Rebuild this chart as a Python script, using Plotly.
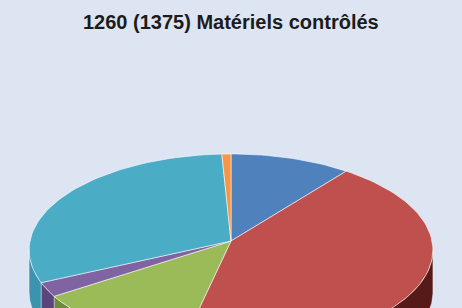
import numpy as np
import plotly.graph_objects as go

# ---- data ----
categories = ["Série 1", "Série 2", "Série 3", "Série 4", "Série 5", "Série 6"]
values = [133, 541, 154, 30, 392, 10]
title_text = "1260 (1375) Matériels contrôlés"

top_colors = ["#4f81bd", "#c0504d", "#9bbb59", "#8064a2", "#4bacc6", "#f79646"]
side_colors = ["#34598a", "#561b19", "#6f8a3c", "#5c457c", "#3b93ae", "#b56a2d"]
bg = "#dce5f1"

# ---- layout constants (pixels) ----
W, H = 462, 308
CX, CY0 = 231, 241          # projected centre of the disc
A, B, K = 201, 95.2, 0.09375  # perspective ellipse parameters
DEPTH = 42


def proj(theta, drop=0.0):
    u = np.sin(theta)
    v = -np.cos(theta)
    w = 1 - K * v
    return CX + A * u / w, CY0 + B * v / w + drop


vals = np.array(values, dtype=float)
fr = vals / vals.sum()
ends = np.cumsum(fr) * 2 * np.pi
starts = ends - fr * 2 * np.pi

fig = go.Figure()

# side faces (front half only)
lo = np.arccos(-K)
hi = 2 * np.pi - lo
for i, name in enumerate(categories):
    a0, a1 = max(starts[i], lo), min(ends[i], hi)
    if a1 <= a0:
        continue
    t = np.linspace(a0, a1, 80)
    xt, yt = proj(t)
    xb, yb = proj(t[::-1], DEPTH)
    fig.add_trace(go.Scatter(
        x=np.concatenate([xt, xb, xt[:1]]), y=np.concatenate([yt, yb, yt[:1]]),
        mode="lines", fill="toself", fillcolor=side_colors[i],
        line=dict(color="rgba(255,255,255,0.35)", width=1),
        hoverinfo="skip", showlegend=False))

# top faces
for i, name in enumerate(categories):
    t = np.linspace(starts[i], ends[i], max(6, int(200 * fr[i])))
    xa, ya = proj(t)
    fig.add_trace(go.Scatter(
        x=np.concatenate([[CX], xa, [CX]]), y=np.concatenate([[CY0], ya, [CY0]]),
        mode="lines", fill="toself", fillcolor=top_colors[i],
        line=dict(color="rgba(255,255,255,0.55)", width=1),
        name=name, text=f"{name}: {values[i]}", hoverinfo="text",
        showlegend=False))

fig.add_annotation(
    x=W / 2 - 0.5, y=22, xref="x", yref="y", text="<b>" + title_text + "</b>",
    showarrow=False, xanchor="center", yanchor="middle",
    font=dict(family="Liberation Sans, Arial, sans-serif", size=20, color="#1c1c1c"))

fig.update_layout(
    width=W, height=H, margin=dict(l=0, r=0, t=0, b=0),
    paper_bgcolor=bg, plot_bgcolor=bg, showlegend=False,
    xaxis=dict(range=[0, W], visible=False, fixedrange=True),
    yaxis=dict(range=[H, 0], visible=False, fixedrange=True),
)

fig.write_html("out.html", config={"displayModeBar": False},
               post_script="document.body.style.margin='0';document.body.style.overflow='hidden';")
